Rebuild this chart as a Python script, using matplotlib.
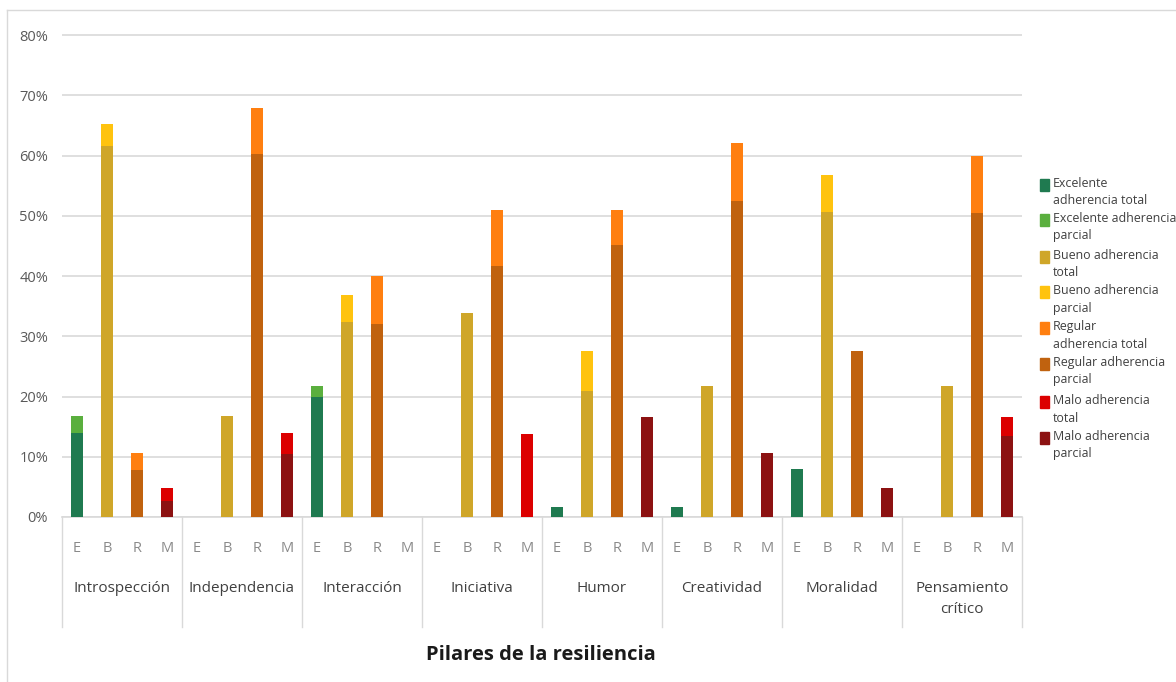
import matplotlib
matplotlib.use("Agg")
import matplotlib.pyplot as plt
from matplotlib.lines import Line2D
from matplotlib.patches import Rectangle

plt.rcParams['font.family'] = ['Open Sans', 'DejaVu Sans']

# ---------------- data ----------------
pillars = ['Introspección', 'Independencia', 'Interacción', 'Iniciativa',
           'Humor', 'Creatividad', 'Moralidad', 'Pensamiento\ncrítico']
letters = ['E', 'B', 'R', 'M']

# segment sizes (%), one value per pillar
exc_total   = [14.0, 0.0, 20.0, 0.0, 1.6, 1.6, 8.0, 0.0]
exc_parcial = [2.7, 0.0, 1.7, 0.0, 0.0, 0.0, 0.0, 0.0]
bue_total   = [61.6, 16.7, 32.3, 33.9, 20.9, 21.7, 50.7, 21.7]
bue_parcial = [3.7, 0.0, 4.5, 0.0, 6.7, 0.0, 6.1, 0.0]
reg_total   = [2.8, 7.6, 7.9, 9.2, 5.7, 9.5, 0.0, 9.5]
reg_parcial = [7.8, 60.3, 32.1, 41.7, 45.2, 52.5, 27.6, 50.5]
mal_total   = [2.1, 3.4, 0.0, 13.8, 0.0, 0.0, 0.0, 3.1]
mal_parcial = [2.7, 10.5, 0.0, 0.0, 16.6, 10.7, 4.8, 13.5]

series_labels = ['Excelente\nadherencia total', 'Excelente adherencia\nparcial',
                 'Bueno adherencia\ntotal', 'Bueno adherencia\nparcial',
                 'Regular\nadherencia total', 'Regular adherencia\nparcial',
                 'Malo adherencia\ntotal', 'Malo adherencia\nparcial']
yticks = [0, 10, 20, 30, 40, 50, 60, 70, 80]
xlabel = 'Pilares de la resiliencia'

# ---------------- style ----------------
C = {
    'exc_total': '#1f7a50', 'exc_parcial': '#5aaf3e',
    'bue_total': '#cfa629', 'bue_parcial': '#ffc30f',
    'reg_total': '#ff7f10', 'reg_parcial': '#c0620f',
    'mal_total': '#dc0000', 'mal_parcial': '#8c1212',
}
legend_colors = [C['exc_total'], C['exc_parcial'], C['bue_total'], C['bue_parcial'],
                 C['reg_total'], C['reg_parcial'], C['mal_total'], C['mal_parcial']]

W, H = 1176, 682
fig = plt.figure(figsize=(W / 100, H / 100), dpi=100)

px_left, px_right = 62, 1022
px_zero, px_top = 517, 32
ymax = 80.5
ax = fig.add_axes([px_left / W, 1 - px_zero / H,
                   (px_right - px_left) / W, (px_zero - px_top) / H])

n = len(pillars)
bw = 0.41
# stack order per letter: (bottom, top)
stacks = [
    (exc_total, C['exc_total'], exc_parcial, C['exc_parcial']),
    (bue_total, C['bue_total'], bue_parcial, C['bue_parcial']),
    (reg_parcial, C['reg_parcial'], reg_total, C['reg_total']),
    (mal_parcial, C['mal_parcial'], mal_total, C['mal_total']),
]
for k, (bot, cb, top, ct) in enumerate(stacks):
    xs = [4 * g + k for g in range(n)]
    ax.bar(xs, bot, width=bw, color=cb, zorder=3)
    ax.bar(xs, top, width=bw, bottom=bot, color=ct, zorder=3)

ax.set_xlim(-0.5, 4 * n - 0.5)
ax.set_ylim(0, ymax)
ax.set_yticks(yticks)
ax.set_yticklabels([f'{v}%' for v in yticks])
ax.tick_params(axis='y', length=0, pad=10, labelsize=10.5, labelcolor='#595959')
ax.tick_params(axis='x', length=0, labelbottom=False)
ax.grid(axis='y', color='#d9d9d9', linewidth=1.2, zorder=0)
for s in ['top', 'right', 'left']:
    ax.spines[s].set_visible(False)
ax.spines['bottom'].set_color('#d9d9d9')
ax.spines['bottom'].set_linewidth(1.2)

axh = px_zero - px_top
def yax(py):
    return (px_zero - py) / axh

tr = ax.get_xaxis_transform()
for g in range(n):
    for k, L in enumerate(letters):
        ax.text(4 * g + k, yax(548), L, transform=tr, ha='center', va='center',
                fontsize=10.5, color='#8a8a8a')
    ax.text(4 * g + 1.5, yax(581), pillars[g], transform=tr, ha='center', va='top',
            fontsize=11, color='#404040', linespacing=1.55)
for g in range(n + 1):
    ax.add_line(Line2D([4 * g - 0.5, 4 * g - 0.5], [0, yax(627)], transform=tr,
                       color='#d9d9d9', linewidth=1.0, clip_on=False))

fig.text(541 / W, 1 - 655 / H, xlabel, ha='center', va='center',
         fontsize=14.5, fontweight='bold', color='#1a1a1a')

# outer chart border (left and top)
fig.add_artist(Line2D([7 / W, 7 / W], [0, 1 - 10 / H], transform=fig.transFigure,
                      color='#d9d9d9', linewidth=1.0))
fig.add_artist(Line2D([7 / W, 1], [1 - 10 / H, 1 - 10 / H], transform=fig.transFigure,
                      color='#d9d9d9', linewidth=1.0))

# legend (manual, handle aligned to first line)
leg_y = [185, 220, 257, 292, 328, 364, 402, 438]
for lab, col, py in zip(series_labels, legend_colors, leg_y):
    fig.add_artist(Rectangle((1040 / W, 1 - (py + 6) / H), 9 / W, 12 / H,
                             transform=fig.transFigure, color=col))
    fig.text(1053 / W, 1 - (py - 8) / H, lab, ha='left', va='top',
             fontsize=8.9, color='#404040', linespacing=1.45)

fig.savefig('out.png', dpi=100)
